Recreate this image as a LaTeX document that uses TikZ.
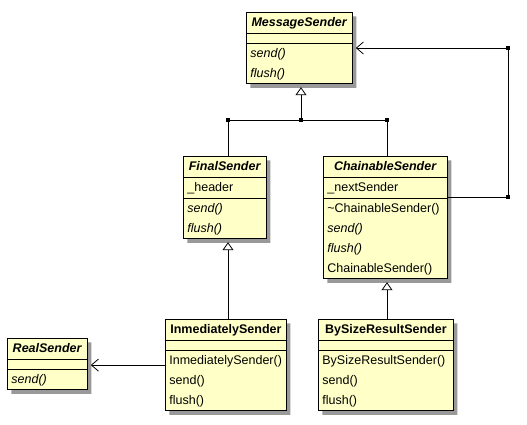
\documentclass[tikz,border=0pt]{standalone}
\usepackage{fontspec}
\setmainfont{Liberation Sans}
\usepackage{tikz}
\usetikzlibrary{shapes.multipart, shadows, arrows.meta, positioning}

\definecolor{umlfill}{RGB}{255,255,200}

% one centred title row, and left aligned rows of a class box
\newcommand{\ctitle}[2]{\begin{tabular}{@{}p{#1pt}@{}}\centering #2\end{tabular}}
\newcommand{\crows}[2]{\begin{tabular}{@{}p{#1pt}@{}}#2\end{tabular}}

\tikzset{
    umlclass/.style={rectangle split, rectangle split parts=3, draw=black, line width=0.8pt,
        fill=umlfill, inner xsep=4pt, inner ysep=0pt,
        rectangle split empty part height=9pt, rectangle split empty part depth=0pt,
        drop shadow={shadow xshift=4pt, shadow yshift=-4pt, fill=black!40, opacity=1}},
    junct/.style={rectangle, fill=black, minimum size=3.5pt, inner sep=0pt},
    gen/.style={line width=0.8pt, -{Triangle[open, length=8pt, width=11pt]}, shorten >=3pt},
    assoc/.style={line width=0.8pt, -{Straight Barb[length=7pt, width=12pt]}, shorten >=3pt}
}

\begin{document}
\begin{tikzpicture}[x=1pt, y=-1pt, font=\fontsize{12.5}{20}\selectfont]
    \useasboundingbox (0,0) rectangle (527,425);

    \begin{scope}[every node/.style={umlclass, anchor=north west}]
        \node (msg) at (246,12) {\ctitle{98}{\textbf{\textit{MessageSender}}}%
            \nodepart{two}\nodepart{three}%
            \crows{98}{\textit{send()}\\ \textit{flush()}}};
        \node (fin) at (183,156) {\ctitle{75}{\textbf{\textit{FinalSender}}}%
            \nodepart{two}\crows{75}{\_header}%
            \nodepart{three}\crows{75}{\textit{send()}\\ \textit{flush()}}};
        \node (chain) at (323,156) {\ctitle{116}{\textbf{\textit{ChainableSender}}}%
            \nodepart{two}\crows{116}{\_nextSender}%
            \nodepart{three}\crows{116}{\textasciitilde ChainableSender()\\ \textit{send()}\\ \textit{flush()}\\ ChainableSender()}};
        \node (inm) at (165,319) {\ctitle{113}{\textbf{InmediatelySender}}%
            \nodepart{two}\nodepart{three}%
            \crows{113}{InmediatelySender()\\ send()\\ flush()}};
        \node (bysize) at (318,319) {\ctitle{127}{\textbf{BySizeResultSender}}%
            \nodepart{two}\nodepart{three}%
            \crows{127}{BySizeResultSender()\\ send()\\ flush()}};
        \node (real) at (7,338) {\ctitle{72}{\textbf{\textit{RealSender}}}%
            \nodepart{two}\nodepart{three}%
            \crows{72}{\textit{send()}}};
    \end{scope}

    % bend points of the connectors
    \node[junct] (jf) at (228,120) {};
    \node[junct] (jm) at (301,120) {};
    \node[junct] (jc) at (387,120) {};
    \node[junct] (kb) at (508,197) {};
    \node[junct] (kt) at (508,48) {};

    % generalisations
    \draw[line width=0.8pt] (jf |- fin.north) -- (jf) -- (jc) -- (jc |- chain.north);
    \draw[gen] (jm) -- (jm |- msg.south);
    \draw[gen] (jf |- inm.north) -- (jf |- fin.south);
    \draw[gen] (jc |- bysize.north) -- (jc |- chain.south);

    % associations
    \draw[assoc] (inm.west) -- (inm.west -| real.east);
    \draw[assoc] (chain.east |- kb) -- (kb) -- (kt) -- (kt -| msg.east);
\end{tikzpicture}
\end{document}
